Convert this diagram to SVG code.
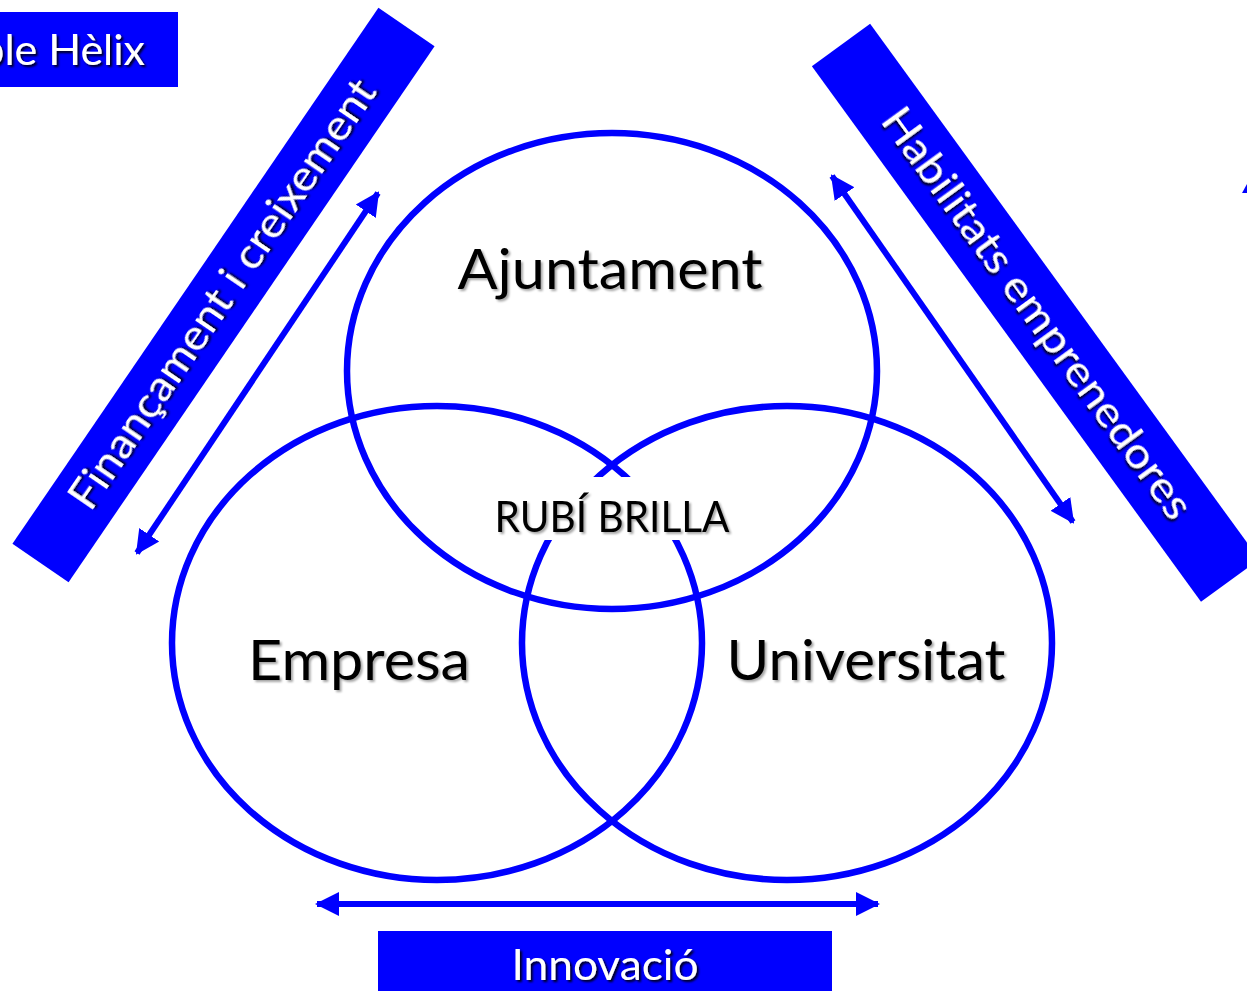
<svg xmlns="http://www.w3.org/2000/svg" width="1247" height="991" viewBox="0 0 1247 991">
<style>
.bar{fill:#0000FF}
.circ{fill:none;stroke:#0000FF;stroke-width:6.5}
.arr{stroke:#0000FF;stroke-width:6;fill:none}
.wt{font-family:Lato,"Liberation Sans",sans-serif;fill:#FFFFFF;filter:url(#shw)}
.bt{font-family:Lato,"Liberation Sans",sans-serif;fill:#000000;filter:url(#shb)}
</style>
<defs>
<filter id="shw" x="-10%" y="-30%" width="120%" height="160%"><feDropShadow dx="2" dy="2" stdDeviation="1" flood-color="#000000" flood-opacity="0.9"/></filter>
<filter id="shb" x="-10%" y="-30%" width="120%" height="160%"><feDropShadow dx="2" dy="2" stdDeviation="1.2" flood-color="#000000" flood-opacity="0.35"/></filter>
<marker id="ah" viewBox="0 -13 24 26" refX="22" refY="0" markerWidth="24" markerHeight="26" markerUnits="userSpaceOnUse" orient="auto-start-reverse"><path d="M0,-12 L24,0 L0,12 z" fill="#0000FF"/></marker>
</defs>
<rect width="1247" height="991" fill="#FFFFFF"/>

<g id="title">
<rect class="bar" x="0" y="12" width="178" height="75"/>
<text class="wt" x="145" y="65" font-size="43" text-anchor="end">ple Hèlix</text>
</g>

<g id="financament">
<g transform="translate(223.5,295) rotate(-55.67)">
<rect class="bar" x="-324.5" y="-34" width="649" height="68"/>
<text class="wt" x="0" y="13" font-size="43" text-anchor="middle" textLength="510" lengthAdjust="spacingAndGlyphs">Finançament i creixement</text>
</g>
</g>

<g id="habilitats">
<g transform="translate(841,45) rotate(54)">
<rect class="bar" x="0" y="-36" width="662" height="72"/>
</g>
<g transform="translate(1036,314) rotate(54)">
<text class="wt" x="0" y="13" font-size="43" text-anchor="middle" textLength="497" lengthAdjust="spacingAndGlyphs">Habilitats emprenedores</text>
</g>
</g>

<g id="innovacio">
<rect class="bar" x="378" y="931" width="454" height="62"/>
<text class="wt" x="605" y="980" font-size="43" text-anchor="middle" textLength="187" lengthAdjust="spacingAndGlyphs">Innovació</text>
</g>

<g id="connectors">
<line class="arr" x1="137" y1="553" x2="378" y2="193" marker-start="url(#ah)" marker-end="url(#ah)"/>
<line class="arr" x1="832" y1="176" x2="1073" y2="522" marker-start="url(#ah)" marker-end="url(#ah)"/>
<line class="arr" x1="317" y1="904" x2="878" y2="904" marker-start="url(#ah)" marker-end="url(#ah)"/>
<polygon points="1247,184 1247,193 1242,193" fill="#0000FF"/>
</g>

<g id="ajuntament">
<ellipse class="circ" cx="612" cy="371" rx="265" ry="238"/>
<text class="bt" x="610" y="289" font-size="57" text-anchor="middle" textLength="305" lengthAdjust="spacingAndGlyphs">Ajuntament</text>
</g>
<g id="empresa">
<ellipse class="circ" cx="437" cy="643" rx="265" ry="237"/>
<text class="bt" x="359" y="680" font-size="57" text-anchor="middle" textLength="222" lengthAdjust="spacingAndGlyphs">Empresa</text>
</g>
<g id="universitat">
<ellipse class="circ" cx="787" cy="643" rx="265" ry="237"/>
<text class="bt" x="866" y="680" font-size="57" text-anchor="middle" textLength="279" lengthAdjust="spacingAndGlyphs">Universitat</text>
</g>

<g id="rubi-brilla">
<rect x="490" y="477" width="245" height="63" fill="#FFFFFF"/>
<text class="bt" x="612" y="532" font-size="42" text-anchor="middle" textLength="235" lengthAdjust="spacingAndGlyphs">RUBÍ BRILLA</text>
</g>
</svg>
